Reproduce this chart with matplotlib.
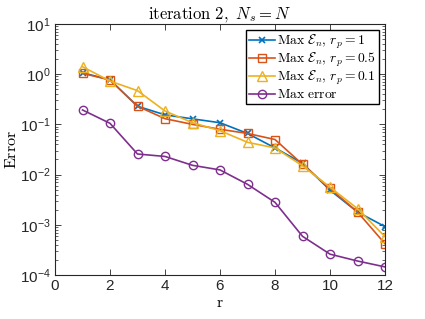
import matplotlib
matplotlib.use("Agg")
import matplotlib.pyplot as plt
from matplotlib.ticker import FuncFormatter, LogLocator, NullFormatter
from matplotlib.font_manager import FontProperties
import numpy as np

plt.rcParams['mathtext.fontset'] = 'custom'
plt.rcParams['mathtext.rm'] = 'Liberation Sans'
plt.rcParams['mathtext.it'] = 'Liberation Sans:italic'
plt.rcParams['mathtext.bf'] = 'Liberation Sans:bold'
plt.rcParams['font.family'] = ['Liberation Sans', 'DejaVu Sans']

r = [1, 2, 3, 4, 5, 6, 7, 8, 9, 10, 11, 12]
err_rp1 = [1.07, 0.77, 0.23, 0.155, 0.129, 0.108, 0.066, 0.034, 0.0168, 0.0049, 0.0018, 0.00092]
err_rp05 = [1.04, 0.77, 0.23, 0.13, 0.10, 0.080, 0.066, 0.050, 0.016, 0.0053, 0.0018, 0.00042]
err_rp01 = [1.41, 0.73, 0.47, 0.185, 0.108, 0.075, 0.044, 0.034, 0.015, 0.0056, 0.0021, 0.00058]
max_error = [0.194, 0.105, 0.0257, 0.023, 0.0153, 0.0124, 0.0064, 0.0028, 0.00059, 0.00026, 0.00019, 0.000145]

labels = [r'$\mathrm{Max}\ \mathcal{E}_n,\,r_p = 1$',
          r'$\mathrm{Max}\ \mathcal{E}_n,\,r_p = 0.5$',
          r'$\mathrm{Max}\ \mathcal{E}_n,\,r_p = 0.1$',
          r'$\mathrm{Max\ error}$']
x_ticks = [0, 2, 4, 6, 8, 10, 12]

fig = plt.figure(figsize=(4.25, 3.19), dpi=100)
ax = fig.add_axes([55/425, 1-275/319, 330/425, 251/319])

lw = 1.2
ax.semilogy(r, err_rp1, '-x', color='#0072BD', lw=lw, ms=4.5, mew=1.2, label=labels[0])
ax.semilogy(r, err_rp05, '-s', color='#D95319', lw=lw, ms=5.5, mfc='none', mew=1.0, label=labels[1])
ax.semilogy(r, err_rp01, '-^', color='#EDB120', lw=lw, ms=6.5, mfc='none', mew=1.0, label=labels[2])
ax.semilogy(r, max_error, '-o', color='#7E2F8E', lw=lw, ms=6, mfc='none', mew=1.0, label=labels[3])

ax.set_xlim(0, 12)
ax.set_ylim(1e-4, 1e1)
ax.set_xticks(x_ticks)
ax.yaxis.set_major_locator(LogLocator(base=10, numticks=10))
ax.yaxis.set_minor_locator(LogLocator(base=10, subs=np.arange(2, 10), numticks=20))
ax.yaxis.set_minor_formatter(NullFormatter())

def fmt(v, pos):
    e = int(round(np.log10(v)))
    return r'$\mathrm{10^{%d}}$' % e
ax.yaxis.set_major_formatter(FuncFormatter(fmt))

ax.tick_params(which='both', direction='in', top=True, right=True, labelsize=11, colors='#262626')
ax.tick_params(which='major', length=4, width=0.6, pad=3)
ax.tick_params(which='minor', length=2, width=0.5)
for s in ax.spines.values():
    s.set_linewidth(0.8)
    s.set_color('#262626')

ax.set_title(r'$\mathrm{iteration\ 2,}\ N_s = N$', fontsize=12, pad=4, math_fontfamily='cm')
ax.set_xlabel(r'$\mathrm{r}$', fontsize=11.5, labelpad=1, math_fontfamily='cm')
ax.set_ylabel(r'$\mathrm{Error}$', fontsize=11.5, labelpad=1, math_fontfamily='cm')

lp = FontProperties(size=9.8, math_fontfamily='cm')
leg = ax.legend(loc='upper right', prop=lp, frameon=True, fancybox=False,
                edgecolor='black', framealpha=1, borderpad=0.2, labelspacing=0.0,
                handlelength=1.9, handletextpad=0.2, borderaxespad=0.45)
leg.get_frame().set_linewidth(1.0)

fig.savefig('out.png', dpi=100)
